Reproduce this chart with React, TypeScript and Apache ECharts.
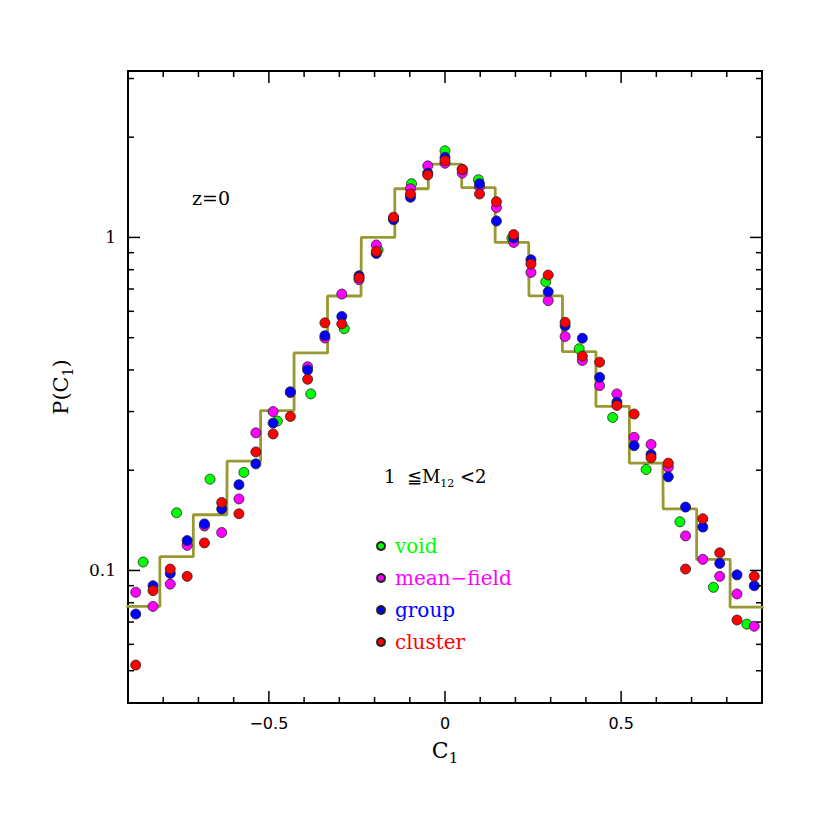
import React, { useEffect, useRef } from 'react';
import * as echarts from 'echarts';

const SERIF = '"DejaVu Serif", serif';
const SANS = '"DejaVu Sans", sans-serif';

// fine bins (41 over [-1,1]) used by mean-field, group, cluster
const fineX = [-0.878, -0.829, -0.780, -0.732, -0.683, -0.634, -0.585, -0.537, -0.488, -0.439, -0.390, -0.341, -0.293, -0.244, -0.195, -0.146, -0.098, -0.049, 0, 0.049, 0.098, 0.146, 0.195, 0.244, 0.293, 0.341, 0.390, 0.439, 0.488, 0.537, 0.585, 0.634, 0.683, 0.732, 0.780, 0.829, 0.878];
// coarse bins (21 over [-1,1]) used by void and the histogram
const coarseX = [-0.857, -0.762, -0.667, -0.571, -0.476, -0.381, -0.286, -0.190, -0.095, 0, 0.095, 0.190, 0.286, 0.381, 0.476, 0.571, 0.667, 0.762, 0.857];
const histHalfWidth = 0.0476;

const voidP = [0.106, 0.149, 0.188, 0.197, 0.281, 0.339, 0.532, 0.917, 1.45, 1.82, 1.49, 0.996, 0.736, 0.463, 0.288, 0.201, 0.140, 0.089, 0.069];
const meanFieldP = [0.086, 0.078, 0.091, 0.119, 0.136, 0.130, 0.164, 0.259, 0.300, 0.342, 0.409, 0.499, 0.676, 0.747, 0.949, 1.14, 1.40, 1.64, 1.67, 1.56, 1.42, 1.23, 0.966, 0.785, 0.646, 0.504, 0.427, 0.359, 0.339, 0.251, 0.239, 0.204, 0.127, 0.108, 0.096, 0.085, 0.068];
const groupP = [0.074, 0.090, 0.098, 0.123, 0.138, 0.153, 0.181, 0.209, 0.277, 0.344, 0.400, 0.507, 0.579, 0.767, 0.895, 1.13, 1.32, 1.56, 1.74, 1.60, 1.45, 1.12, 0.996, 0.857, 0.687, 0.543, 0.498, 0.380, 0.320, 0.237, 0.223, 0.191, 0.155, 0.135, 0.105, 0.097, 0.090];
const clusterP = [0.052, 0.087, 0.101, 0.096, 0.121, 0.160, 0.148, 0.227, 0.257, 0.290, 0.375, 0.554, 0.550, 0.757, 0.908, 1.15, 1.35, 1.54, 1.70, 1.60, 1.35, 1.28, 1.02, 0.832, 0.771, 0.556, 0.440, 0.422, 0.313, 0.295, 0.218, 0.210, 0.101, 0.143, 0.113, 0.071, 0.096];
const histP = [0.078, 0.110, 0.147, 0.213, 0.302, 0.450, 0.667, 1.00, 1.40, 1.66, 1.41, 0.966, 0.668, 0.454, 0.311, 0.210, 0.153, 0.108, 0.0776];

const xMajorTicks = [-0.5, 0, 0.5];
const xMinorTicks = [-0.8, -0.7, -0.6, -0.4, -0.3, -0.2, -0.1, 0.1, 0.2, 0.3, 0.4, 0.6, 0.7, 0.8];
const yMajorTicks = [0.1, 1];
const yMinorTicks = [0.05, 0.06, 0.07, 0.08, 0.09, 0.2, 0.3, 0.4, 0.5, 0.6, 0.7, 0.8, 0.9, 2, 3];
const xTickLabels: Record<string, string> = { '-5': '\u22120.5', '0': '0', '5': '0.5' };
const yTickLabels = ['0.1', '1'];

const seriesNames = ['void', 'mean\u2212field', 'group', 'cluster'];
const seriesColors = ['#00ff00', '#ff00ff', '#0000ff', '#ff0000'];

export default function App() {
  const ref = useRef<HTMLDivElement>(null);
  useEffect(() => {
    const chart = echarts.init(ref.current as HTMLDivElement, null, { renderer: 'svg' });
    const zip = (xs: number[], ys: number[]) => xs.map((x, i) => [x, ys[i]]);
    const histLine: number[][] = [];
    coarseX.forEach((c, i) => {
      histLine.push([c - histHalfWidth, histP[i]], [c + histHalfWidth, histP[i]]);
    });
    const xTickData = [...xMajorTicks.map((v) => [v, 1, 12]), ...xMinorTicks.map((v) => [v, 1, 6])];
    const yTickData = [...yMajorTicks.map((v) => [0, v, 12]), ...yMinorTicks.map((v) => [0, v, 6])];
    const yLabelData = yMajorTicks.map((v) => [0, v]);

    const scatter = (i: number, data: number[][]) => ({
      type: 'scatter',
      name: seriesNames[i],
      data,
      symbol: 'circle',
      symbolSize: 10,
      itemStyle: { color: seriesColors[i], borderColor: '#222', borderWidth: 0.8, opacity: 1 },
      z: 3,
    });

    const tickStyle = { stroke: '#000', lineWidth: 1.5 };

    chart.setOption({
      animation: false,
      grid: { left: 128, right: 68, top: 71, bottom: 127, show: true, borderColor: '#000', borderWidth: 2, backgroundColor: 'transparent' },
      xAxis: {
        type: 'value', min: -0.9, max: 0.9, interval: 0.1,
        axisLine: { show: false }, axisTick: { show: false }, splitLine: { show: false },
        axisLabel: {
          margin: 12, fontFamily: SANS, fontSize: 16, color: '#000',
          formatter: (v: number) => xTickLabels[String(Math.round(v * 10))] ?? '',
        },
        name: 'C{s|1}', nameLocation: 'middle', nameGap: 30,
        nameTextStyle: {
          fontFamily: SERIF, fontSize: 22, lineHeight: 30, color: '#000',
          rich: { s: { fontFamily: SERIF, fontSize: 15, lineHeight: 15, verticalAlign: 'bottom', color: '#000' } },
        },
      },
      yAxis: {
        type: 'log', logBase: 10, min: 0.04, max: 3.16,
        axisLine: { show: false }, axisTick: { show: false }, splitLine: { show: false }, minorTick: { show: false },
        axisLabel: { show: false },
        name: 'P(C{s|1})', nameLocation: 'middle', nameRotate: 90, nameGap: 53,
        nameTextStyle: {
          fontFamily: SERIF, fontSize: 21, lineHeight: 28, color: '#000',
          rich: { s: { fontFamily: SERIF, fontSize: 14, lineHeight: 14, verticalAlign: 'bottom', color: '#000' } },
        },
      },
      legend: {
        orient: 'vertical', left: 376, top: 536, padding: 0,
        itemWidth: 18, itemHeight: 8, itemGap: 12, icon: 'circle', selectedMode: false,
        textStyle: { fontFamily: SERIF, fontSize: 20, lineHeight: 20 },
        data: seriesNames.map((n, i) => ({ name: n, textStyle: { color: seriesColors[i] } })),
      },
      graphic: [
        { type: 'text', x: 192, y: 198, style: { text: 'z=0', fontFamily: SERIF, fontSize: 19, fill: '#000', verticalAlign: 'middle' } },
        {
          type: 'text', x: 384, y: 476,
          style: {
            text: '1  \u2266M{s|12} <2', fontFamily: SERIF, fontSize: 18, lineHeight: 26, fill: '#000', verticalAlign: 'middle',
            rich: { s: { fontFamily: SERIF, fontSize: 11, lineHeight: 11, verticalAlign: 'bottom', fill: '#000' } },
          },
        },
      ],
      series: [
        {
          type: 'line', data: histLine, showSymbol: false, symbol: 'none',
          lineStyle: { color: '#999933', width: 2.8 }, z: 2, clip: true, silent: true,
        },
        scatter(0, zip(coarseX, voidP)),
        scatter(1, zip(fineX, meanFieldP)),
        scatter(2, zip(fineX, groupP)),
        scatter(3, zip(fineX, clusterP)),
        {
          type: 'custom', silent: true, z: 5, data: xTickData,
          renderItem: (params: any, api: any) => {
            const cs = params.coordSys;
            const px = api.coord([api.value(0), 1])[0];
            const len = api.value(2);
            const b = cs.y + cs.height;
            return {
              type: 'group',
              children: [
                { type: 'line', shape: { x1: px, y1: b, x2: px, y2: b - len }, style: tickStyle },
                { type: 'line', shape: { x1: px, y1: cs.y, x2: px, y2: cs.y + len }, style: tickStyle },
              ],
            };
          },
        },
        {
          type: 'custom', silent: true, z: 5, data: yTickData,
          renderItem: (params: any, api: any) => {
            const cs = params.coordSys;
            const py = api.coord([0, api.value(1)])[1];
            const len = api.value(2);
            const r = cs.x + cs.width;
            return {
              type: 'group',
              children: [
                { type: 'line', shape: { x1: cs.x, y1: py, x2: cs.x + len, y2: py }, style: tickStyle },
                { type: 'line', shape: { x1: r, y1: py, x2: r - len, y2: py }, style: tickStyle },
              ],
            };
          },
        },
        {
          type: 'custom', silent: true, z: 5, data: yLabelData,
          renderItem: (params: any, api: any) => {
            const cs = params.coordSys;
            const py = api.coord([0, api.value(1)])[1];
            return {
              type: 'text',
              x: cs.x - 12,
              y: py,
              style: {
                text: yTickLabels[params.dataIndex], fontFamily: SERIF, fontSize: 17, fill: '#000',
                align: 'right', verticalAlign: 'middle',
              },
            };
          },
        },
      ],
    });
    return () => chart.dispose();
  }, []);
  return <div ref={ref} style={{ position: 'fixed', left: 0, top: 0, width: 830, height: 830, background: '#fff' }} />;
}
